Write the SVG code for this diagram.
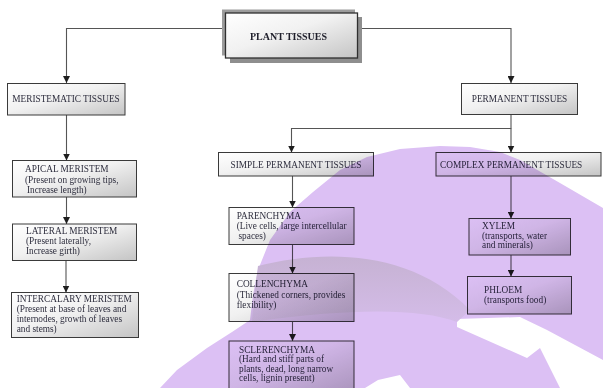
<svg xmlns="http://www.w3.org/2000/svg" width="603" height="388" viewBox="0 0 603 388">
<defs>
<linearGradient id="g" x1="0" y1="0" x2="1" y2="1">
<stop offset="0" stop-color="#ffffff"/>
<stop offset="0.45" stop-color="#f1f1f1"/>
<stop offset="1" stop-color="#c4c4c4"/>
</linearGradient>
<linearGradient id="band" x1="0" y1="0" x2="0" y2="1">
<stop offset="0" stop-color="#c6b2d3"/>
<stop offset="1" stop-color="#d4bce8"/>
</linearGradient>
<marker id="ah" markerUnits="userSpaceOnUse" markerWidth="7" markerHeight="7" viewBox="0 0 7 7" refX="7" refY="3.5" orient="auto">
<path d="M0,0 L7,3.5 L0,7 Z" fill="#1e1e1e"/>
</marker>
<style>
.box{fill:url(#g);stroke:#3a3a3a;stroke-width:1}
.t{font-family:"Liberation Serif","Times New Roman",serif;font-size:9.3px;fill:#2e2e3e}
.tb{font-family:"Liberation Serif","Times New Roman",serif;font-size:10px;font-weight:bold;fill:#1e1e2a}
.c{stroke:#555;stroke-width:1.1;fill:none;marker-end:url(#ah)}
</style>
</defs>
<rect width="603" height="388" fill="#ffffff"/>

<g id="connectors">
<path class="c" d="M225,28.5 H66.5 V83"/>
<path class="c" d="M358,28.5 H511 V83"/>
<path class="c" d="M511,114 V128.5 H291.5 V152.5"/>
<path class="c" d="M511,128.5 V152.5"/>
<path class="c" d="M66.5,115 V160.5"/>
<path class="c" d="M66.5,197 V224"/>
<path class="c" d="M66,260.5 V292.5"/>
<path class="c" d="M292.5,176 V207.5"/>
<path class="c" d="M292.5,244.5 V273.5"/>
<path class="c" d="M292.5,322 V341"/>
<path class="c" d="M511,176 V218.5"/>
<path class="c" d="M511,255 V276.5"/>
</g>

<g id="plant-tissues">
<rect x="222" y="9.5" width="133" height="46" fill="#9c9c9c"/>
<rect x="230" y="17" width="132" height="46" fill="#8e8e8e"/>
<rect x="225.5" y="13" width="132" height="45" fill="url(#g)" stroke="#2f2f2f" stroke-width="1.3"/>
<text class="tb" x="288.5" y="40" text-anchor="middle">PLANT TISSUES</text>
</g>

<g id="meristematic-tissues">
<rect class="box" x="7.5" y="83.5" width="117.5" height="31.5"/>
<text class="t" x="66" y="102" text-anchor="middle">MERISTEMATIC TISSUES</text>
</g>

<g id="permanent-tissues">
<rect class="box" x="461.5" y="83.5" width="116" height="31"/>
<text class="t" x="519.5" y="101.5" text-anchor="middle">PERMANENT TISSUES</text>
</g>

<g id="apical-meristem">
<rect class="box" x="12.5" y="160.5" width="124" height="36.5"/>
<text class="t" x="25" y="171.7">APICAL MERISTEM</text>
<text class="t" x="25" y="182.7">(Present on growing tips,</text>
<text class="t" x="27" y="192.7">Increase length)</text>
</g>

<g id="lateral-meristem">
<rect class="box" x="12.5" y="224" width="124" height="36.5"/>
<text class="t" x="26" y="234">LATERAL MERISTEM</text>
<text class="t" x="26" y="244.3">(Present laterally,</text>
<text class="t" x="26" y="254.3">Increase girth)</text>
</g>

<g id="intercalary-meristem">
<rect class="box" x="11.5" y="292.5" width="127" height="45"/>
<text class="t" x="16.7" y="302.3">INTERCALARY MERISTEM</text>
<text class="t" x="16.7" y="312.3">(Present at base of leaves and</text>
<text class="t" x="16.7" y="322.3">internodes, growth of leaves</text>
<text class="t" x="16.7" y="332">and stems)</text>
</g>

<g id="simple-permanent-tissues">
<rect class="box" x="218.5" y="152.5" width="155" height="23.5"/>
<text class="t" x="296" y="168" text-anchor="middle">SIMPLE PERMANENT TISSUES</text>
</g>

<g id="complex-permanent-tissues">
<rect class="box" x="436" y="152.5" width="165" height="23.5"/>
<text class="t" x="440" y="168">COMPLEX PERMANENT TISSUES</text>
</g>

<g id="parenchyma">
<rect class="box" x="229" y="207.5" width="125" height="37"/>
<text class="t" x="236.7" y="219">PARENCHYMA</text>
<text class="t" x="236.7" y="229">(Live cells, large intercellular</text>
<text class="t" x="238.5" y="239">spaces)</text>
</g>

<g id="collenchyma">
<rect class="box" x="229" y="273.5" width="125" height="48"/>
<text class="t" x="236.7" y="287.3">COLLENCHYMA</text>
<text class="t" x="236.7" y="298">(Thickened corners, provides</text>
<text class="t" x="236.7" y="308">flexibility)</text>
</g>

<g id="sclerenchyma">
<rect class="box" x="229" y="341" width="125" height="52"/>
<text class="t" x="239" y="352.5">SCLERENCHYMA</text>
<text class="t" x="239" y="362">(Hard and stiff parts of</text>
<text class="t" x="239" y="371.5">plants, dead, long narrow</text>
<text class="t" x="239" y="381">cells, lignin present)</text>
</g>

<g id="xylem">
<rect class="box" x="469" y="218.5" width="101.5" height="36.5"/>
<text class="t" x="482" y="228.5">XYLEM</text>
<text class="t" x="482" y="238.5">(transports, water</text>
<text class="t" x="482" y="248">and minerals)</text>
</g>

<g id="phloem">
<rect class="box" x="467.5" y="276.5" width="104" height="37.5"/>
<text class="t" x="484" y="292.5">PHLOEM</text>
<text class="t" x="484" y="303">(transports food)</text>
</g>

<g id="watermark" style="mix-blend-mode:multiply">
<path fill="#dcc0f4" fill-rule="evenodd" d="M160,388 L177,370 L207,348 L232,332 L250,320 L253,295 L258,270 L270,240 L290,212 L313,192 L340,170 L367,157 L400,149 L440,146 L470,147 L500,152 L520,160 L560,183 L603,208 L603,360 L547,330 L520,317 L457,319 L457,327 L527,358 L540,348 L560,388 Z M365,388 L378,380 L400,375 L410,388 Z"/>
<path fill="url(#band)" d="M258,266 C320,250 410,248 470,310 L457,322 C420,308 350,308 252,322 L254,296 Z"/>
</g>
</svg>
